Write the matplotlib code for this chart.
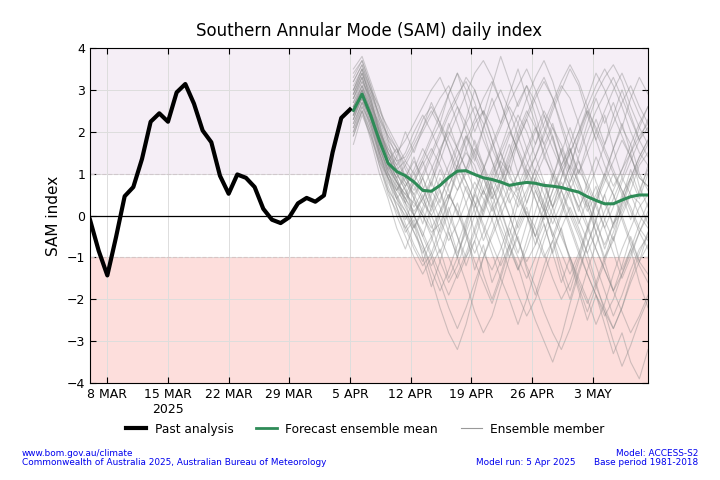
import matplotlib
matplotlib.use("Agg")
import matplotlib.pyplot as plt
from matplotlib.lines import Line2D
import pandas as pd

# --- DATA ---
past_start = "2025-03-06"
past_sam = [-0.1, -0.84, -1.43, -0.52, 0.46, 0.68, 1.35, 2.24, 2.44, 2.24,
            2.94, 3.14, 2.67, 2.03, 1.75, 0.95, 0.52, 0.98, 0.90, 0.68,
            0.16, -0.10, -0.18, -0.04, 0.29, 0.42, 0.33, 0.48, 1.51, 2.33, 2.53]

fc_start = "2025-04-05 09:36"
fc_mean = [2.51, 2.90, 2.39, 1.79, 1.25, 1.05, 0.95, 0.80, 0.60, 0.58,
           0.72, 0.91, 1.06, 1.07, 0.98, 0.90, 0.86, 0.80, 0.72, 0.76,
           0.79, 0.77, 0.72, 0.70, 0.67, 0.61, 0.56, 0.45, 0.36, 0.28,
           0.28, 0.37, 0.45, 0.49, 0.49]

# ensemble members (estimated traces, subset)
m01 = [2.6,3.0,2.5,1.8,1.2,0.8,0.5,0.3,0.0,-0.4,-0.2,0.4,1.0,1.6,2.2,2.5,2.1,1.5,0.9,0.6,0.9,1.4,2.0,2.6,3.1,2.8,2.2,1.5,0.8,0.3,-0.2,0.1,0.6,1.2,1.5]
m02 = [2.9,3.4,2.9,2.2,1.6,1.3,1.4,1.8,2.3,2.6,2.2,1.6,0.9,0.3,-0.4,-0.9,-1.3,-0.8,-0.2,0.5,1.1,0.7,0.2,-0.5,-1.2,-1.8,-1.1,-0.4,0.3,1.0,1.6,2.1,1.7,1.0,0.6]
m03 = [2.2,2.7,2.1,1.4,0.7,0.2,-0.3,-0.8,-1.2,-0.9,-0.3,0.4,1.1,1.5,1.2,0.6,0.1,0.5,1.2,1.9,2.4,2.9,3.3,2.8,2.1,1.4,0.7,0.2,-0.4,-1.0,-0.6,0.0,0.5,0.3,-0.2]
m04 = [3.3,3.7,3.1,2.3,1.9,1.4,0.9,0.6,1.0,1.5,2.0,2.5,2.9,3.2,2.7,2.0,1.3,0.6,0.0,-0.6,-1.1,-0.7,0.0,0.6,1.2,1.7,2.3,2.8,3.4,3.0,2.4,1.9,1.4,0.9,0.7]
m05 = [1.9,2.5,2.0,1.2,0.6,0.3,0.0,-0.4,-0.8,-1.5,-2.2,-2.8,-3.2,-2.6,-1.8,-1.0,-0.4,0.2,0.7,0.4,0.0,-0.5,-1.0,-0.6,0.0,0.6,1.1,0.7,0.2,-0.3,0.2,0.8,1.3,1.8,2.1]
m06 = [2.7,3.2,2.8,2.0,1.4,1.0,0.7,1.1,1.6,1.2,0.6,0.0,-0.5,-1.0,-0.6,0.1,0.7,1.3,1.9,2.4,2.0,1.4,0.8,0.2,-0.4,-1.0,-1.5,-2.0,-2.6,-2.1,-1.4,-0.8,-0.3,0.2,0.5]
m07 = [2.4,2.9,2.3,1.7,1.3,0.9,0.4,0.1,0.4,0.9,1.5,2.1,2.6,2.2,1.7,1.1,0.5,-0.1,-0.7,-1.2,-1.9,-2.5,-3.0,-3.5,-2.9,-2.1,-1.4,-0.7,-0.1,0.5,1.0,0.6,0.1,-0.4,-0.8]
m08 = [3.1,3.5,2.9,2.4,1.9,1.6,1.2,0.8,0.4,0.8,1.3,1.9,2.4,2.9,3.4,3.7,3.3,2.7,2.1,1.5,1.0,1.4,1.9,2.5,3.0,3.5,3.1,2.4,1.8,1.2,0.7,1.1,1.7,2.2,2.6]
m09 = [2.0,2.6,2.2,1.5,0.9,0.4,-0.2,-0.7,-1.1,-0.6,0.0,0.5,0.1,-0.5,-1.1,-1.6,-2.1,-1.5,-0.8,-0.2,0.3,0.9,1.4,1.0,0.4,-0.2,-0.8,-1.4,-1.9,-2.3,-2.7,-2.2,-1.5,-0.9,-0.4]
m10 = [2.8,3.3,2.7,2.1,1.5,1.2,1.5,2.0,2.4,2.0,1.5,1.0,0.6,1.0,1.5,2.1,2.6,3.0,2.5,1.9,1.3,0.8,0.3,-0.2,0.3,0.8,1.4,2.0,2.5,2.9,3.3,2.8,2.3,1.8,1.4]
m11 = [2.5,3.0,2.4,1.6,1.0,0.5,0.1,-0.3,0.1,0.6,0.2,-0.4,-1.0,-1.6,-2.3,-2.8,-2.4,-1.7,-1.0,-0.4,0.1,-0.3,-0.9,-1.5,-2.0,-1.6,-1.0,-0.3,0.4,0.9,0.5,-0.1,-0.7,-1.2,-1.6]
m12 = [3.5,3.8,3.2,2.6,2.0,1.6,1.1,0.7,0.3,0.0,0.4,0.9,1.4,1.9,1.5,1.0,0.4,0.9,1.5,2.2,2.8,3.3,3.7,3.2,2.5,1.9,1.3,0.8,0.3,-0.3,-0.9,-1.5,-1.0,-0.4,0.1]
m13 = [2.3,2.8,2.3,1.6,1.1,0.8,0.5,0.9,1.3,1.8,2.2,1.8,1.3,0.8,0.3,-0.3,-0.9,-1.5,-2.0,-2.6,-2.0,-1.3,-0.6,0.0,0.6,1.2,0.8,0.3,-0.2,-0.7,-0.2,0.3,0.9,1.4,1.8]
m14 = [2.9,3.3,2.7,2.0,1.3,0.7,0.2,-0.2,-0.7,-1.3,-1.8,-1.3,-0.7,-0.1,0.5,1.1,1.7,2.2,2.7,3.1,3.5,3.0,2.4,1.8,1.2,0.7,0.2,0.6,1.1,1.7,2.2,2.7,3.1,2.6,2.2]
m15 = [1.7,2.4,1.9,1.3,0.9,0.6,0.9,1.3,0.9,0.4,-0.1,-0.6,-0.2,0.3,0.8,0.4,-0.1,-0.7,-1.3,-1.9,-2.4,-2.0,-1.4,-0.8,-0.3,0.2,-0.3,-0.9,-1.6,-2.3,-3.0,-3.6,-3.1,-2.5,-2.0]
m16 = [2.6,3.1,2.6,2.0,1.6,1.2,0.8,0.5,0.9,1.4,1.9,2.4,2.8,3.3,3.0,2.4,1.8,1.2,0.7,0.2,0.6,1.1,0.7,0.2,0.6,1.2,1.8,2.4,2.9,3.3,3.6,3.2,2.6,2.1,1.7]
m17 = [2.1,2.6,2.0,1.3,0.6,0.0,-0.5,-1.0,-1.4,-1.0,-0.5,0.1,0.6,1.1,1.6,1.2,0.7,0.1,-0.5,-1.0,-1.5,-1.0,-0.4,0.2,0.8,0.4,-0.1,-0.6,-1.2,-1.8,-2.4,-1.9,-1.3,-0.8,-0.5]
m18 = [3.0,3.5,3.0,2.4,1.8,1.5,1.8,2.2,2.6,3.0,3.3,2.8,2.2,1.6,1.0,0.5,1.0,1.5,2.0,1.6,1.1,0.6,0.1,-0.4,-0.9,-1.4,-0.9,-0.3,0.3,0.8,1.3,1.8,1.4,0.9,0.7]
m19 = [2.4,2.9,2.4,1.7,1.0,0.6,0.3,0.0,-0.5,-1.0,-1.6,-2.2,-2.7,-2.2,-1.6,-1.0,-0.5,0.0,0.5,1.0,1.5,2.0,2.5,2.1,1.5,1.0,0.4,-0.2,-0.8,-1.3,-1.8,-1.4,-0.9,-0.4,0.0]
m20 = [2.8,3.2,2.6,1.9,1.4,1.1,1.3,1.0,0.6,0.2,0.7,1.2,1.7,2.2,2.6,2.2,1.6,1.1,0.6,1.0,1.6,2.1,1.7,1.1,0.6,0.1,-0.4,-0.9,-0.4,0.1,0.6,1.1,1.5,1.9,2.2]
m21 = [3.2,3.6,3.0,2.3,1.7,1.3,0.9,0.5,0.1,-0.3,0.1,0.5,0.1,-0.4,-0.9,-0.4,0.2,0.8,1.4,2.0,2.5,2.1,1.5,0.9,0.3,-0.3,-0.9,-1.4,-1.9,-2.4,-2.0,-1.4,-0.8,-0.2,0.3]
m22 = [2.2,2.7,2.1,1.5,1.0,0.7,0.4,0.8,1.2,1.6,1.2,0.7,1.2,1.8,2.3,2.8,3.2,2.7,2.1,1.5,0.9,0.4,-0.1,0.4,0.9,1.5,2.0,2.5,2.1,1.6,1.1,0.6,0.2,-0.3,-0.6]
m23 = [2.7,3.1,2.5,1.8,1.2,0.8,0.4,0.0,-0.4,-0.9,-1.4,-1.9,-1.4,-0.9,-0.3,0.3,0.9,0.5,0.0,-0.6,-1.2,-1.7,-2.3,-2.8,-3.2,-2.7,-2.0,-1.3,-0.7,-0.1,0.4,0.9,0.5,0.0,-0.3]
m24 = [2.5,3.0,2.5,2.0,1.5,1.1,0.7,1.0,1.4,1.9,2.4,2.9,3.4,3.0,2.4,1.8,1.3,0.8,0.3,0.7,1.2,1.7,2.2,2.7,3.2,3.6,3.2,2.6,2.0,1.5,1.0,0.5,0.9,1.4,1.8]
m25 = [1.9,2.5,1.9,1.2,0.5,0.1,-0.3,0.0,0.4,0.0,-0.5,-1.0,-1.5,-1.0,-0.4,0.2,0.8,1.3,1.0,0.5,0.0,-0.5,0.0,0.6,1.1,0.7,0.2,-0.3,-0.8,-1.3,-1.8,-2.3,-2.8,-2.4,-1.9]
m26 = [3.4,3.7,3.1,2.5,2.1,1.7,1.3,1.7,2.1,2.5,2.1,1.6,1.1,0.6,0.2,0.6,1.1,1.6,2.2,2.7,3.1,2.7,2.1,1.6,1.1,1.5,2.0,2.6,3.1,3.5,3.1,2.6,2.0,1.5,1.2]
m27 = [2.3,2.8,2.2,1.5,0.8,0.4,0.1,-0.4,-0.9,-0.5,0.1,0.7,1.2,0.8,0.3,-0.2,-0.7,-1.2,-0.7,-0.1,0.5,1.1,1.6,2.1,1.7,1.1,0.6,0.1,0.5,1.0,0.5,0.0,-0.6,-1.1,-1.4]
m28 = [2.6,3.1,2.5,1.9,1.4,1.0,0.6,0.2,0.6,1.1,1.6,2.0,1.6,1.1,0.6,1.1,1.6,2.1,2.6,2.2,1.6,1.0,0.5,0.0,-0.5,-1.0,-1.6,-2.1,-1.6,-1.0,-0.4,0.2,0.8,1.3,1.7]
m29 = [3.0,3.4,2.8,2.1,1.5,1.1,0.8,0.4,0.0,-0.5,-1.1,-1.6,-1.2,-0.6,0.0,0.6,0.2,-0.3,-0.8,-1.3,-0.8,-0.2,0.4,1.0,0.6,0.0,-0.5,-1.1,-1.7,-2.2,-2.7,-2.2,-1.6,-1.1,-0.7]
m30 = [2.4,2.9,2.4,1.8,1.3,0.9,1.2,1.6,2.0,2.4,2.8,3.1,2.6,2.0,1.4,0.9,0.4,0.8,1.3,1.8,2.3,2.8,3.2,2.8,2.2,1.6,1.0,1.5,2.0,2.5,3.0,3.4,2.9,2.4,2.0]
m31 = [2.5,2.9,2.3,1.5,0.9,0.2,-0.4,-0.1,-0.7,-1.2,-0.8,-1.5,-1.0,-0.3,0.5,0.1,0.9,1.5,1.0,1.8,2.3,1.7,2.4,1.9,1.2,1.6,0.8,0.2,0.7,-0.1,-0.6,0.3,0.9,0.4,1.0]
m32 = [2.8,3.3,2.6,2.2,1.3,1.6,0.9,1.4,0.7,0.1,0.6,-0.2,-0.9,-0.4,-1.3,-0.7,-1.6,-1.1,-0.3,-0.9,-0.2,0.6,0.1,0.9,1.6,1.1,1.9,2.5,1.8,2.4,1.6,0.9,1.5,0.7,0.2]
m33 = [2.1,2.7,2.4,1.6,1.1,0.4,0.7,0.0,-0.5,0.2,0.9,0.4,1.2,1.9,1.3,2.1,2.8,2.2,2.9,3.5,2.8,2.2,1.4,1.9,1.1,0.5,-0.2,0.4,-0.4,-1.1,-0.5,-1.3,-0.8,-1.6,-2.2]
m34 = [3.2,3.6,3.0,2.6,1.8,1.0,0.6,0.0,0.5,-0.2,-0.9,-0.3,0.3,-0.4,0.2,0.9,0.3,-0.4,-1.0,-0.5,-1.3,-1.9,-1.2,-0.6,-1.4,-2.0,-1.3,-0.7,-0.1,-0.8,-0.2,0.5,-0.1,0.6,1.1]
m35 = [2.6,3.0,2.3,1.7,1.1,1.4,2.0,1.5,2.1,2.7,2.2,2.9,3.4,2.7,2.0,2.5,1.8,1.1,1.7,1.0,0.3,0.9,0.2,-0.5,0.1,0.7,0.1,0.8,1.4,0.9,1.6,2.2,1.5,2.1,2.6]
m36 = [2.0,2.5,1.8,1.0,0.4,-0.3,-0.8,-0.2,-1.0,-1.7,-1.1,-0.4,-1.0,-0.2,0.6,0.0,0.7,0.2,-0.5,0.3,1.0,0.4,-0.2,-0.9,-0.3,-1.1,-1.8,-2.5,-1.9,-2.6,-3.3,-2.8,-3.5,-3.9,-3.2]
m37 = [2.9,3.4,2.8,2.0,1.5,0.8,0.3,0.8,1.3,0.7,1.5,2.2,1.6,2.3,3.0,2.4,3.1,3.8,3.2,2.6,3.1,2.4,1.7,2.2,1.5,0.8,1.3,0.6,-0.1,0.5,-0.3,0.4,1.1,0.5,1.2]
m38 = [2.4,2.8,2.2,1.4,0.9,0.5,-0.1,0.4,0.9,0.3,-0.4,0.2,-0.5,-1.2,-0.6,-1.4,-2.0,-1.4,-0.7,-1.3,-0.6,0.1,0.8,0.2,0.9,1.6,1.0,1.7,2.3,1.7,2.4,3.0,2.4,1.8,2.3]
m39 = [3.0,3.5,2.7,1.9,1.2,0.6,1.0,0.4,-0.2,0.5,1.1,0.6,0.0,0.7,0.1,-0.6,-0.1,0.6,1.2,0.7,0.0,-0.7,-0.2,-0.9,-1.6,-1.0,-1.7,-2.3,-1.7,-1.1,-1.8,-1.2,-0.5,-1.1,-0.4]
m40 = [2.3,2.9,2.4,1.8,1.2,0.9,0.3,-0.3,0.2,0.8,0.3,1.0,1.6,1.1,1.8,1.2,0.5,1.1,0.4,-0.3,0.2,-0.5,0.2,0.9,1.5,2.1,1.5,2.2,2.8,2.2,2.7,2.1,2.8,3.3,2.9]
members = [m01, m02, m03, m04, m05, m06, m07, m08, m09, m10,
           m11, m12, m13, m14, m15, m16, m17, m18, m19, m20,
           m21, m22, m23, m24, m25, m26, m27, m28, m29, m30,
           m31, m32, m33, m34, m35, m36, m37, m38, m39, m40]

tick_dates = ["2025-03-08", "2025-03-15", "2025-03-22", "2025-03-29", "2025-04-05",
              "2025-04-12", "2025-04-19", "2025-04-26", "2025-05-03"]
tick_labels = ["8 MAR", "15 MAR\n2025", "22 MAR", "29 MAR", "5 APR",
               "12 APR", "19 APR", "26 APR", "3 MAY"]

# --- DATES ---
past_dates = pd.date_range(past_start, periods=len(past_sam), freq="D")
fc_dates = pd.date_range(fc_start, periods=len(fc_mean), freq="D")

# --- PLOT ---
fig = plt.figure(figsize=(7.2, 4.8), dpi=100)
ax = fig.add_axes([0.125, 0.202, 0.775, 0.698])

ax.axhspan(1, 4, color="#f5eef6", zorder=0, lw=0)
ax.axhspan(-4, -1, color="#fddedc", zorder=0, lw=0)
ax.axhline(1, color="#d0c8cc", ls="--", lw=0.8, zorder=1)
ax.axhline(-1, color="#d8c4c4", ls="--", lw=0.8, zorder=1)
ax.grid(True, color="#dddddd", lw=0.7, zorder=1)
ax.set_axisbelow(True)

for m in members:
    ax.plot(fc_dates, m, color="#888888", alpha=0.4, lw=0.8, zorder=2)

ax.axhline(0, color="black", lw=0.9, zorder=3)
ax.plot(past_dates, past_sam, color="black", lw=3, zorder=4)
ax.plot(fc_dates, fc_mean, color="#2e8b57", lw=2.2, zorder=5)

ax.set_xlim(past_dates[0], fc_dates[-1])
ax.set_ylim(-4, 4)
ax.set_yticks(range(-4, 5))
ax.set_xticks(pd.to_datetime(tick_dates))
ax.set_xticklabels(tick_labels, fontsize=9)
ax.tick_params(axis="y", labelsize=9)
ax.tick_params(direction="in", top=True, right=True, length=4)
ax.set_ylabel("SAM index", fontsize=11)
ax.set_title("Southern Annular Mode (SAM) daily index", fontsize=12, pad=9)

handles = [Line2D([], [], color="black", lw=3),
           Line2D([], [], color="#2e8b57", lw=2),
           Line2D([], [], color="#999999", lw=0.8)]
fig.legend(handles, ["Past analysis", "Forecast ensemble mean", "Ensemble member"],
           loc="center", bbox_to_anchor=(0.507, 0.106), ncol=3, frameon=False,
           fontsize=8.7, columnspacing=1.9, handlelength=1.7, handletextpad=0.7)

blue = "#0000ee"
fig.text(0.03, 0.028, "www.bom.gov.au/climate\nCommonwealth of Australia 2025, Australian Bureau of Meteorology",
         fontsize=6.4, color=blue, ha="left", va="bottom", linespacing=1.0)
fig.text(0.97, 0.028, "Model: ACCESS-S2\nBase period 1981-2018",
         fontsize=6.4, color=blue, ha="right", va="bottom", linespacing=1.0, multialignment="right")
fig.text(0.80, 0.028, "Model run: 5 Apr 2025",
         fontsize=6.4, color=blue, ha="right", va="bottom")

plt.savefig("out.png", dpi=100)
